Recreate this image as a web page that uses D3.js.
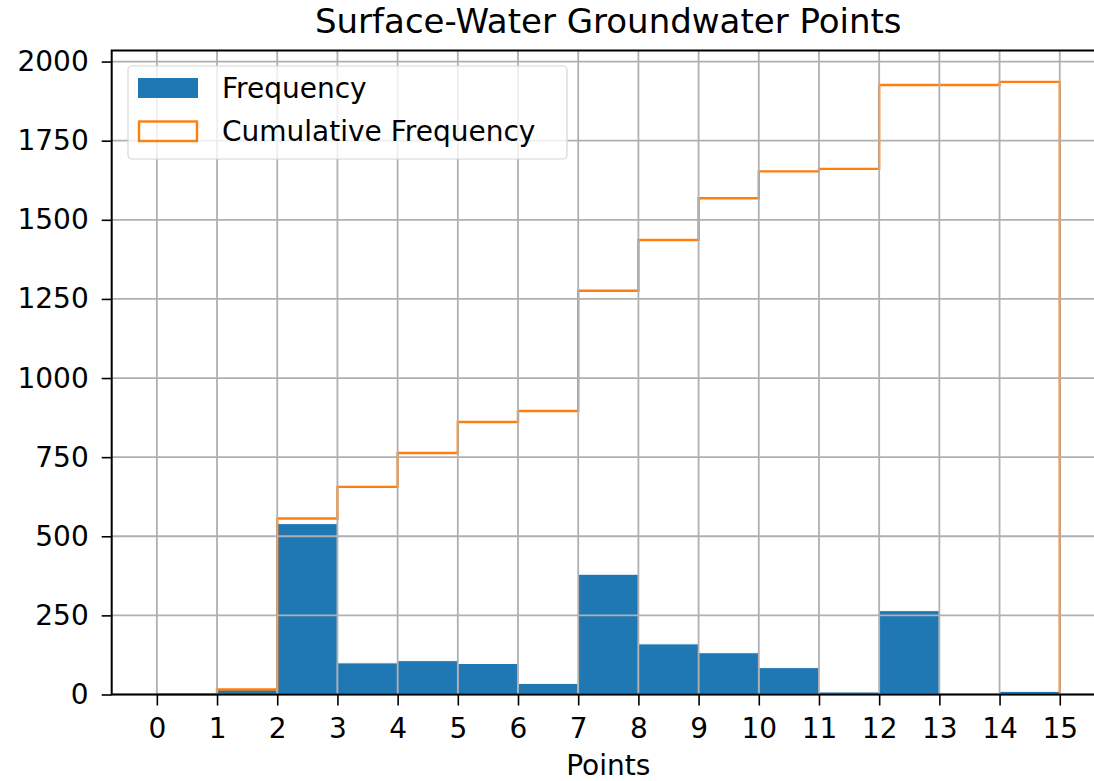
<!DOCTYPE html>
<html>
<head>
<meta charset="utf-8">
<script src="https://cdnjs.cloudflare.com/ajax/libs/d3/7.8.5/d3.min.js"></script>
<style>
  body { margin: 0; background: #fff; }
  text { font-family: "DejaVu Sans", sans-serif; fill: #000; }
</style>
</head>
<body>
<script>
var w = 1094, h = 781;

// histogram bins (left edges 0..14, width 1) and counts
var binEdges = [0, 1, 2, 3, 4, 5, 6, 7, 8, 9, 10, 11, 12, 13, 14, 15];
var frequency = [0, 16, 540, 100, 107, 98, 35, 380, 160, 132, 85, 8, 265, 0, 10];
var xTicks = [0, 1, 2, 3, 4, 5, 6, 7, 8, 9, 10, 11, 12, 13, 14, 15];
var yTicks = [0, 250, 500, 750, 1000, 1250, 1500, 1750, 2000];
var legendLabels = ["Frequency", "Cumulative Frequency"];

var cumulative = Array.from(d3.cumsum(frequency));

var blue = "#1f77b4", orange = "#ff7f0e", gridCol = "#b0b0b0";

var x = d3.scaleLinear().domain([-0.75, 15.75]).range([111.7, 1104.9]);
var y = d3.scaleLinear().domain([0, 2035]).range([694.5, 50.5]);

var svg = d3.select("body").append("svg")
            .attr("width", w)
            .attr("height", h);

//frequency bars
svg.append("g").selectAll("rect")
    .data(frequency)
    .enter()
    .append("rect")
    .attr("x", function(d, i){ return x(binEdges[i]); })
    .attr("width", function(d, i){ return x(binEdges[i + 1]) - x(binEdges[i]); })
    .attr("y", function(d){ return y(d); })
    .attr("height", function(d){ return y(0) - y(d); })
    .style("fill", blue)
    .style("stroke", "#fff")
    .style("stroke-width", 1);

//cumulative step outline
var pts = [[binEdges[0], 0]];
cumulative.forEach(function(c, i){
    pts.push([binEdges[i], c]);
    pts.push([binEdges[i + 1], c]);
});
pts.push([binEdges[binEdges.length - 1], 0]);

svg.append("path")
    .datum(pts)
    .attr("d", d3.line().x(function(d){ return x(d[0]); }).y(function(d){ return y(d[1]); }))
    .style("fill", "none")
    .style("stroke", orange)
    .style("stroke-width", 2.4)
    .style("stroke-linejoin", "miter");

//grid on top of the patches, like matplotlib
var grid = svg.append("g").style("stroke", gridCol).style("stroke-width", 1.8);
grid.selectAll(".vg")
    .data(xTicks)
    .enter()
    .append("line")
    .attr("x1", function(d){ return x(d); })
    .attr("x2", function(d){ return x(d); })
    .attr("y1", y.range()[0])
    .attr("y2", y.range()[1]);
grid.selectAll(".hg")
    .data(yTicks)
    .enter()
    .append("line")
    .attr("x1", x.range()[0])
    .attr("x2", x.range()[1])
    .attr("y1", function(d){ return y(d); })
    .attr("y2", function(d){ return y(d); });

//axes
var xAxis = d3.axisBottom(x).tickValues(xTicks).tickSize(11).tickFormat(d3.format("d"));
var yAxis = d3.axisLeft(y).tickValues(yTicks).tickSize(10).tickPadding(13).tickFormat(d3.format("d"));

var gx = svg.append("g").attr("transform", "translate(0," + y.range()[0] + ")").call(xAxis);
var gy = svg.append("g").attr("transform", "translate(" + x.range()[0] + ",0)").call(yAxis);

[gx, gy].forEach(function(g){
    g.select(".domain").remove();
    g.selectAll(".tick line").style("stroke", "#000").style("stroke-width", 1.6);
    g.selectAll(".tick text").style("font-size", "28px").style("font-family", "DejaVu Sans");
});
gx.selectAll(".tick text").attr("dy", null).attr("y", 43);

//spines
var spines = svg.append("g").style("stroke", "#000").style("stroke-width", 2).style("fill", "none");
spines.append("rect")
    .attr("x", x.range()[0])
    .attr("y", y.range()[1])
    .attr("width", x.range()[1] - x.range()[0])
    .attr("height", y.range()[0] - y.range()[1]);

//title and label
svg.append("text")
    .attr("x", (x.range()[0] + x.range()[1]) / 2)
    .attr("y", 33)
    .attr("text-anchor", "middle")
    .style("font-size", "34px")
    .text("Surface-Water Groundwater Points");

svg.append("text")
    .attr("x", (x.range()[0] + x.range()[1]) / 2)
    .attr("y", 775)
    .attr("text-anchor", "middle")
    .style("font-size", "28px")
    .text("Points");

//legend
var legend = svg.append("g");
legend.append("rect")
    .attr("x", 128)
    .attr("y", 66)
    .attr("width", 439)
    .attr("height", 93)
    .attr("rx", 4)
    .style("fill", "#fff")
    .style("fill-opacity", 0.8)
    .style("stroke", "#d6d6d6")
    .style("stroke-width", 1.2);

var items = legend.selectAll(".item")
    .data(legendLabels)
    .enter()
    .append("g")
    .attr("transform", function(d, i){ return "translate(138," + (78 + i * 42.5) + ")"; });

items.append("rect")
    .attr("x", function(d, i){ return i ? 1 : 0; })
    .attr("y", function(d, i){ return i ? 1 : 0; })
    .attr("width", function(d, i){ return i ? 58 : 60; })
    .attr("height", function(d, i){ return i ? 19.5 : 20; })
    .style("fill", function(d, i){ return i ? "none" : blue; })
    .style("stroke", function(d, i){ return i ? orange : "none"; })
    .style("stroke-width", 2.4);

items.append("text")
    .attr("x", 84)
    .attr("y", 10)
    .attr("dy", "0.36em")
    .style("font-size", "28px")
    .text(function(d){ return d; });
</script>
</body>
</html>
